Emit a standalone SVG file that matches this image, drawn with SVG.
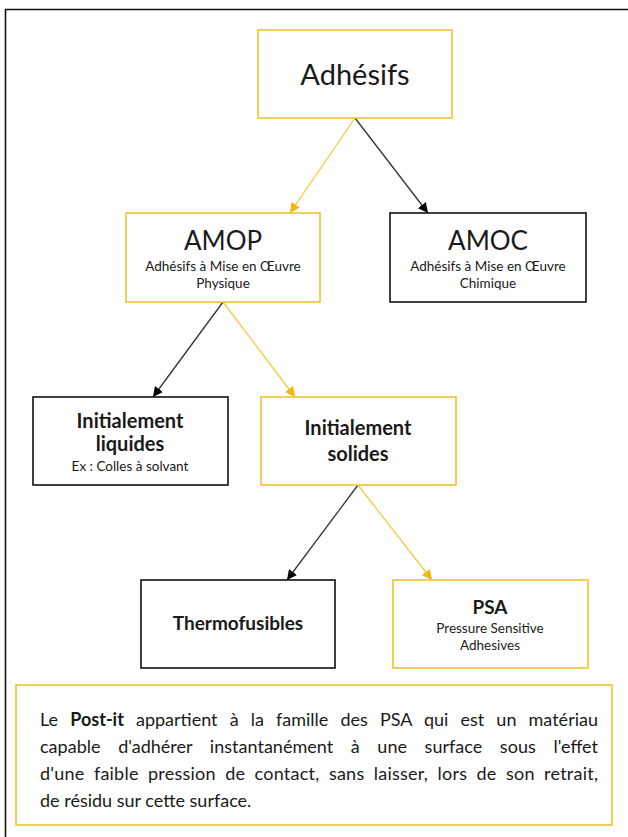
<svg xmlns="http://www.w3.org/2000/svg" width="628" height="837" viewBox="0 0 628 837">
<style>
.bg{fill:#fff}
.y{fill:#fff;stroke:#F2C230;stroke-width:1.6}
.k{fill:#fff;stroke:#111;stroke-width:1.6}
text{font-family:Lato,"Open Sans","Liberation Sans",sans-serif;fill:#1a1a1a;text-anchor:middle}
.b{font-weight:bold}
.s{font-size:13.5px}
.ly{stroke:#F5C842;stroke-width:1.3;fill:none}
.lk{stroke:#333;stroke-width:1.3;fill:none}
.p{font-size:18px;text-anchor:start}
</style>
<defs>
<marker id="ay" viewBox="0 0 10 10" refX="10" refY="5" markerWidth="10" markerHeight="10" markerUnits="userSpaceOnUse" orient="auto"><path d="M0,0 L10,5 L0,10 z" fill="#F4B800"/></marker>
<marker id="ak" viewBox="0 0 10 10" refX="10" refY="5" markerWidth="10" markerHeight="10" markerUnits="userSpaceOnUse" orient="auto"><path d="M0,0 L10,5 L0,10 z" fill="#000"/></marker>
</defs>
<rect x="0" y="0" width="628" height="837" class="bg"/>
<path d="M5.5,845 V9.5 H640" fill="none" stroke="#111" stroke-width="1.6"/>
<g id="connectors">
<line x1="355" y1="118" x2="290" y2="213" class="ly" marker-end="url(#ay)"/>
<line x1="355" y1="118" x2="428" y2="213" class="lk" marker-end="url(#ak)"/>
<line x1="223" y1="302" x2="153" y2="397" class="lk" marker-end="url(#ak)"/>
<line x1="223" y1="302" x2="295" y2="397" class="ly" marker-end="url(#ay)"/>
<line x1="358" y1="485" x2="287" y2="580" class="lk" marker-end="url(#ak)"/>
<line x1="358" y1="485" x2="432" y2="580" class="ly" marker-end="url(#ay)"/>
</g>
<g id="adhesifs">
<rect x="258" y="30" width="194" height="88" class="y"/>
<text x="355" y="85" font-size="29">Adhésifs</text>
</g>
<g id="amop">
<rect x="126" y="213" width="194" height="89" class="y"/>
<text x="223" y="250" font-size="26">AMOP</text>
<text x="223" y="271" class="s">Adhésifs à Mise en Œuvre</text>
<text x="223" y="288" class="s">Physique</text>
</g>
<g id="amoc">
<rect x="390" y="213" width="196" height="89" class="k"/>
<text x="488" y="250" font-size="26">AMOC</text>
<text x="488" y="271" class="s">Adhésifs à Mise en Œuvre</text>
<text x="488" y="288" class="s">Chimique</text>
</g>
<g id="liquides">
<rect x="33" y="397" width="195" height="88" class="k"/>
<text x="130" y="428" font-size="20" class="b">Initialement</text>
<text x="130" y="451" font-size="20" class="b">liquides</text>
<text x="130" y="471" class="s">Ex : Colles à solvant</text>
</g>
<g id="solides">
<rect x="261" y="397" width="195" height="88" class="y"/>
<text x="358" y="435" font-size="20" class="b">Initialement</text>
<text x="358" y="461" font-size="20" class="b">solides</text>
</g>
<g id="thermofusibles">
<rect x="141" y="580" width="194" height="88" class="k"/>
<text x="238" y="630" font-size="19" class="b">Thermofusibles</text>
</g>
<g id="psa">
<rect x="393" y="580" width="195" height="88" class="y"/>
<text x="490" y="614" font-size="19" class="b">PSA</text>
<text x="490" y="633" class="s">Pressure Sensitive</text>
<text x="490" y="650" class="s">Adhesives</text>
</g>
<g id="note">
<rect x="16" y="685" width="596" height="140" class="y"/>
<text x="40" y="726" class="p" word-spacing="7.5" textLength="558" lengthAdjust="spacing">Le <tspan class="b">Post-it</tspan> appartient à la famille des PSA qui est un matériau</text>
<text x="40" y="753" class="p" word-spacing="13" textLength="558" lengthAdjust="spacing">capable d'adhérer instantanément à une surface sous l'effet</text>
<text x="40" y="780" class="p" word-spacing="4.5" textLength="558" lengthAdjust="spacing">d'une faible pression de contact, sans laisser, lors de son retrait,</text>
<text x="40" y="807" class="p">de résidu sur cette surface.</text>
</g>
</svg>
